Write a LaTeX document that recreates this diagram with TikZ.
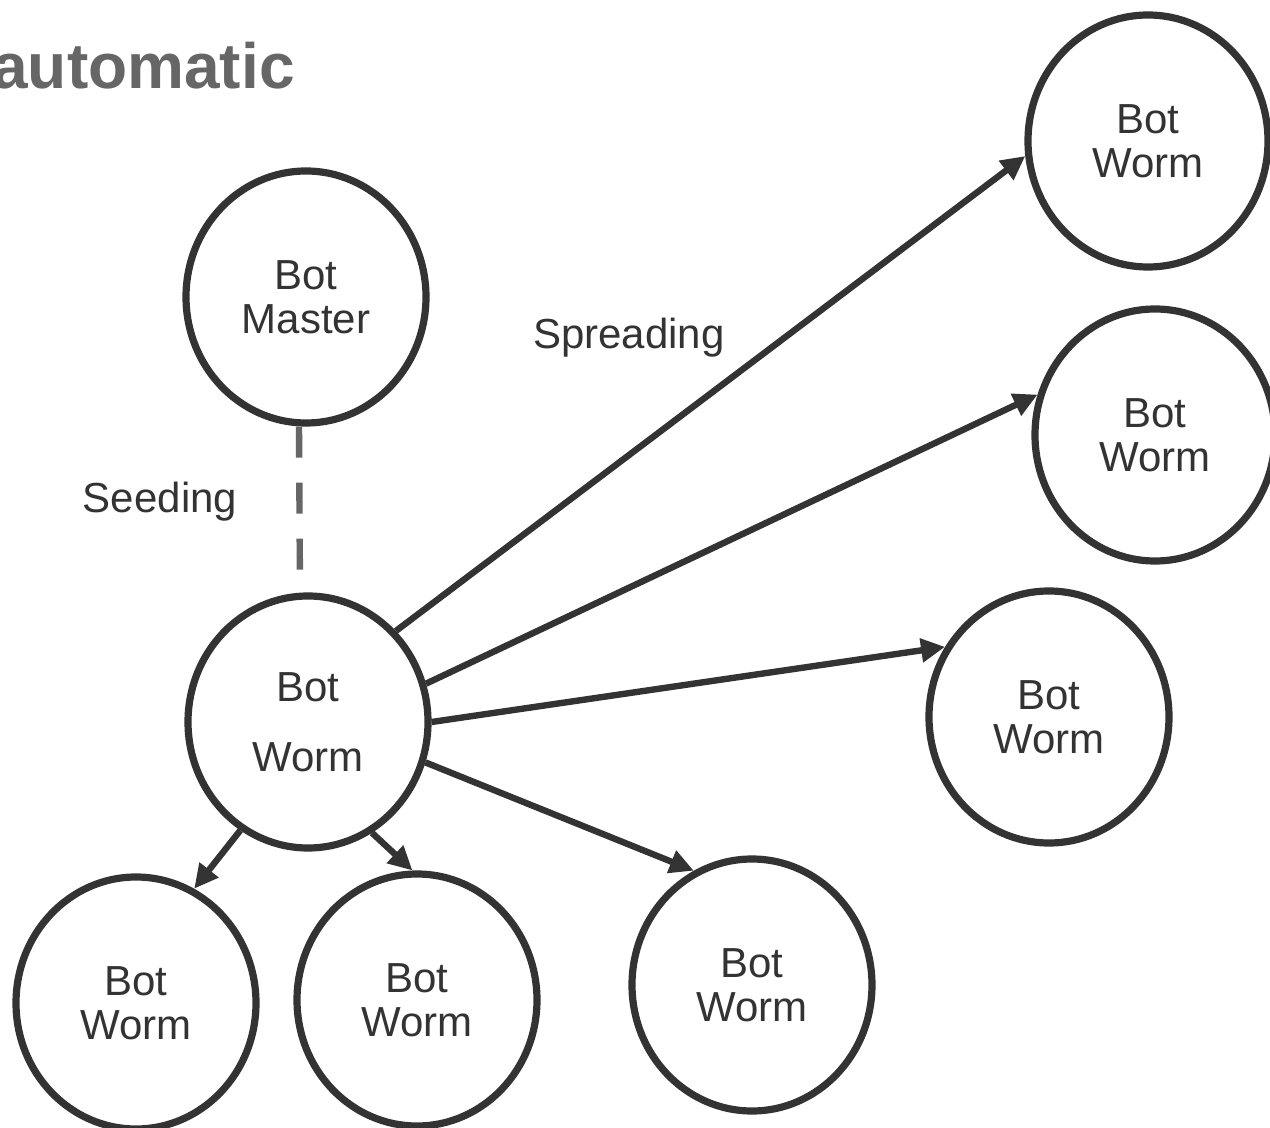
\documentclass[tikz,border=0pt]{standalone}
\usepackage{fontspec}
\setmainfont{Liberation Sans}
\usetikzlibrary{shapes.geometric, arrows.meta}
\definecolor{ink}{HTML}{333333}
\definecolor{soft}{HTML}{666666}

\begin{document}
\begin{tikzpicture}[x=0.5pt, y=-0.5pt,
  bot/.style={ellipse, draw=ink, line width=3.6pt, minimum width=120pt,
    minimum height=126pt, inner sep=0pt, align=center, text=ink,
    font=\fontsize{21}{22}\selectfont},
  spread/.style={draw=ink, line width=3.2pt,
    -{Triangle[length=12pt,width=11.5pt]}},
  seed/.style={draw=soft, line width=3.2pt, dash pattern=on 15.5pt off 12.5pt},
  lbl/.style={text=ink, font=\fontsize{21}{22}\selectfont, inner sep=0pt}
]
\clip (0,0) rectangle (1270,1128);
\fill[white] (0,0) rectangle (1270,1128);

% title
\node[anchor=base east, inner sep=0pt, text=soft,
  font=\fontsize{32}{36}\selectfont\bfseries] (title) at (295,89) {automatic};

% nodes
\node[bot] (master) at (306,297) {Bot\\Master};
\node[bot, font=\fontsize{21}{35}\selectfont] (worm) at (308,722) {Bot\\Worm};
\node[bot] (w1) at (1148,141) {Bot\\Worm};
\node[bot] (w2) at (1155,435) {Bot\\Worm};
\node[bot] (w3) at (1049,717) {Bot\\Worm};
\node[bot] (w4) at (752,985) {Bot\\Worm};
\node[bot] (w5) at (136,1003) {Bot\\Worm};
\node[bot] (w6) at (417,1000) {Bot\\Worm};

% labels
\node[lbl, anchor=base] (seeding) at (160,513) {Seeding};
\node[lbl, anchor=base] (spreading) at (629,349) {Spreading};

% seeding link
\draw[seed] ([xshift=-3.5pt]master.south) -- ([xshift=-4pt]worm.north);

% spreading links
\draw[spread] (worm.46) -- (w1.187);
\draw[spread] (worm.18) -- (w2.161);
\draw[spread] (worm.0) -- (w3.146);
\draw[spread] (worm.341) -- (w4.117);
\draw[spread] (worm.238) -- (w5.63);
\draw[spread] (worm.300) -- (w6.92);
\end{tikzpicture}
\end{document}
